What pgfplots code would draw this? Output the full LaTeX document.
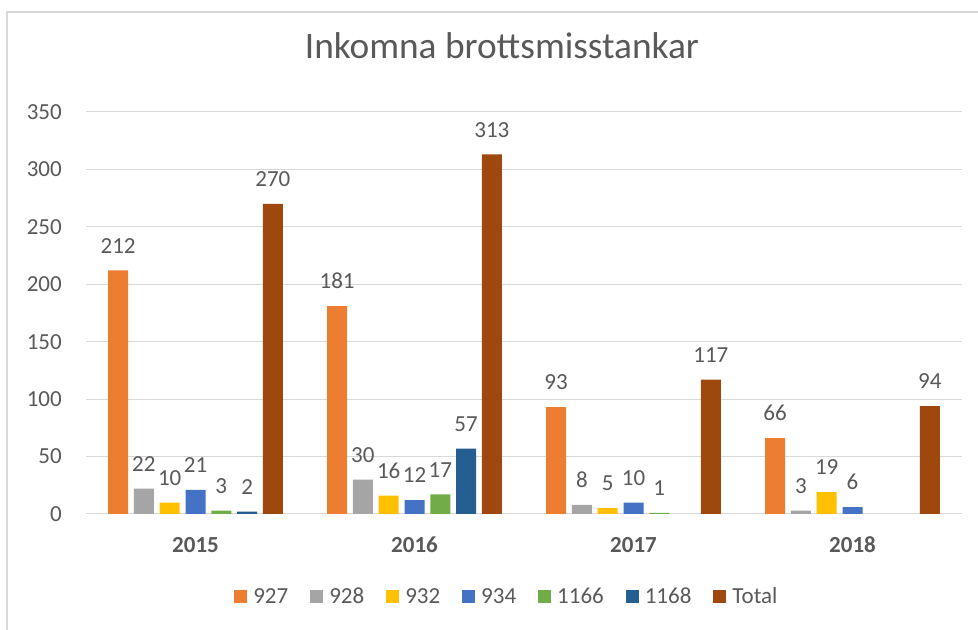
\documentclass[border=0pt]{standalone}
\usepackage{pgfplots}
\pgfplotsset{compat=1.18}
\usepackage{fontspec}
\setmainfont{Carlito}
\definecolor{c927}{HTML}{ED7D31}
\definecolor{c928}{HTML}{A5A5A5}
\definecolor{c932}{HTML}{FFC000}
\definecolor{c934}{HTML}{4472C4}
\definecolor{c1166}{HTML}{70AD47}
\definecolor{c1168}{HTML}{255E91}
\definecolor{ctot}{HTML}{9E480E}
\definecolor{txt}{HTML}{595959}
\definecolor{gridc}{HTML}{D9D9D9}
\definecolor{framec}{HTML}{D9D9D9}
\newcommand{\lbl}{\fontsize{17.25pt}{20pt}\selectfont}
\begin{document}
\begin{tikzpicture}
\path[use as bounding box] (0,0) rectangle (733.5pt,472.5pt);
\draw[framec, line width=1.5pt] (5.25pt,0) -- (5.25pt,463.5pt) -- (733.5pt,463.5pt);
\begin{axis}[
  at={(64.5pt,87pt)}, anchor=south west,
  scale only axis, width=657pt, height=301.5pt,
  xmin=-0.5, xmax=3.5, ymin=0, ymax=350,
  ytick={0,50,...,350},
  xtick={0,1,2,3}, xticklabels={2015,2016,2017,2018},
  axis line style={draw=none},
  major tick length=0pt,
  ymajorgrids, grid style={gridc, line width=0.75pt},
  /pgf/number format/assume math mode=true,
  ticklabel style={font=\lbl, text=txt},
  yticklabel style={anchor=east, inner sep=0pt, xshift=-18pt},
  xticklabel style={font=\lbl\bfseries, anchor=base, inner sep=0pt, yshift=-29.25pt},
  title={Inkomna brottsmisstankar},
  title style={font=\fontsize{28pt}{32pt}\selectfont, text=txt, at={(0.4748,1.112)}, anchor=base, inner sep=0pt},
  ybar=4.35pt, bar width=15pt,
  nodes near coords,
  every node near coord/.append style={font=\lbl, text=txt, anchor=south, inner sep=0pt, yshift=12.75pt},
  legend columns=7,
  legend style={at={(0.169,-0.2065)}, anchor=west, draw=none, fill=none, inner sep=0pt,
    font=\lbl, text=txt, row sep=0pt,
    nodes={inner sep=0pt, outer sep=0pt},
    cells={anchor=base west, inner sep=0pt, text height=11pt, text depth=0pt},
    /tikz/every odd column/.append style={column sep=4.5pt},
    /tikz/every even column/.append style={column sep=16.5pt}},
  legend image code/.code={\fill[#1] (0pt,0.3pt) rectangle (9.75pt,10.05pt);},
]
\addplot[fill=c927, draw=none] coordinates {(0,212) (1,181) (2,93) (3,66)};
\addplot[fill=c928, draw=none] coordinates {(0,22) (1,30) (2,8) (3,3)};
\addplot[fill=c932, draw=none] coordinates {(0,10) (1,16) (2,5) (3,19)};
\addplot[fill=c934, draw=none] coordinates {(0,21) (1,12) (2,10) (3,6)};
\addplot[fill=c1166, draw=none] coordinates {(0,3) (1,17) (2,1)};
\addplot[fill=c1168, draw=none] coordinates {(0,2) (1,57)};
\addplot[fill=ctot, draw=none] coordinates {(0,270) (1,313) (2,117) (3,94)};
\legend{927,928,932,934,1166,1168,Total}
\end{axis}
\end{tikzpicture}
\end{document}
